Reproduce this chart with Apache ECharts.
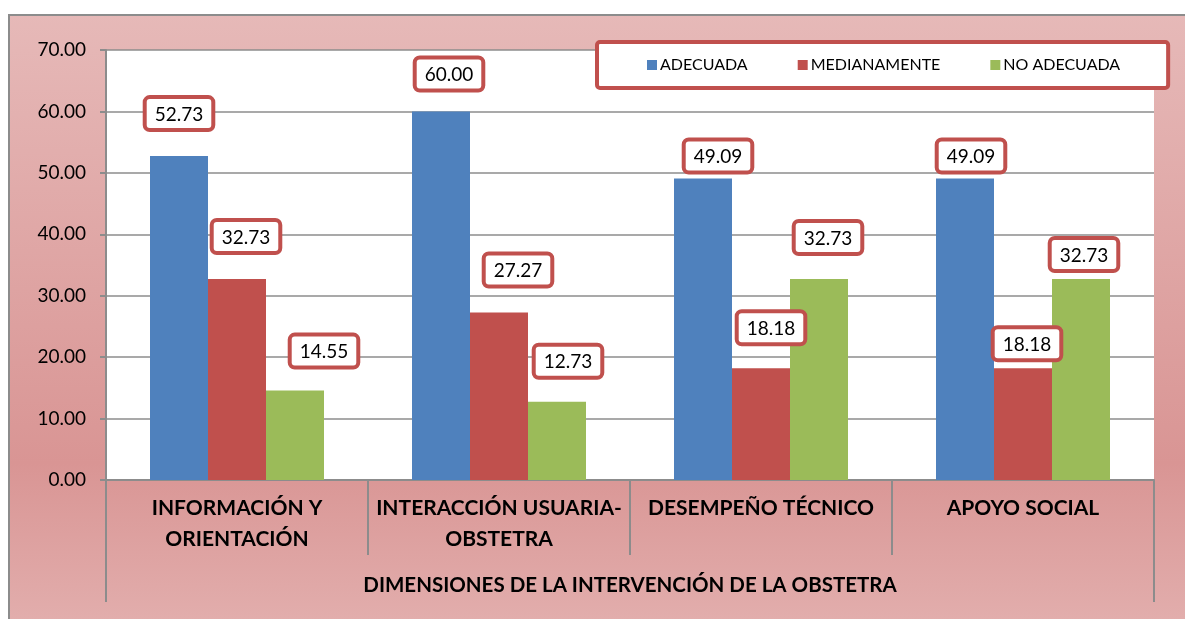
<!DOCTYPE html>
<html>
<head>
<meta charset="utf-8">
<script src="https://cdn.jsdelivr.net/npm/echarts@6/dist/echarts.min.js"></script>
<style>
  html, body { margin: 0; padding: 0; background: #fff; }
  #chart { width: 1185px; height: 619px; }
</style>
</head>
<body>
<div id="chart"></div>
<script>
const categories = ['INFORMACIÓN Y\nORIENTACIÓN', 'INTERACCIÓN USUARIA-\nOBSTETRA', 'DESEMPEÑO TÉCNICO', 'APOYO SOCIAL']
const axisTitle = 'DIMENSIONES DE LA INTERVENCIÓN DE LA OBSTETRA'
const seriesNames = ['ADECUADA', 'MEDIANAMENTE', 'NO ADECUADA']
const adecuada = [52.73, 60.00, 49.09, 49.09]
const medianamente = [32.73, 27.27, 18.18, 18.18]
const noAdecuada = [14.55, 12.73, 32.73, 32.73]
const yTicks = [0, 10, 20, 30, 40, 50, 60, 70]

const colors = ['#4f81bd', '#c0504d', '#9bbb59']
// label placement tweaks (dx, dy) like the hand-moved labels of the original
const labelNudge = [
    [[0, 0], [8, 5], [15, 20], [6, 20]],
    [[9, 0], [19, 0], [10, 2], [4, 18]],
    [[29, 3], [11, 2], [9, 1], [3, 18]]
]
const font = 'Lato, "Open Sans", sans-serif'

let chart = echarts.init(document.getElementById('chart'))

function makeSeries(name, values, idx) {
    return {
        name: name,
        type: 'bar',
        barWidth: 58,
        barGap: '0%',
        itemStyle: { color: colors[idx] },
        data: values.map((v, i) => ({
            value: v,
            label: { offset: labelNudge[idx][i] }
        })),
        label: {
            show: true,
            position: 'top',
            distance: 28,
            formatter: p => p.value.toFixed(2),
            fontFamily: font,
            fontSize: 19,
            color: '#000',
            backgroundColor: '#fff',
            borderColor: '#c0504d',
            borderWidth: 4,
            borderRadius: 3,
            padding: [6, 8, 4, 8]
        }
    }
}

let option = {
    backgroundColor: '#fff',
    animation: false,
    graphic: [{
        type: 'rect',
        z: -10,
        shape: { x: 9, y: 15, width: 1200, height: 640 },
        style: {
            fill: new echarts.graphic.LinearGradient(0, 0, 0, 1, [
                { offset: 0, color: '#e6b9b8' },
                { offset: 0.7, color: '#d99594' },
                { offset: 1, color: '#e4b3b2' }
            ]),
            stroke: '#8c8c8c',
            lineWidth: 2
        }
    }],
    legend: {
        left: 597,
        top: 42,
        icon: 'rect',
        itemWidth: 10,
        itemHeight: 10,
        itemGap: 50,
        padding: [15, 48, 15, 50],
        backgroundColor: '#fff',
        borderColor: '#c0504d',
        borderWidth: 4,
        borderRadius: 3,
        textStyle: { fontFamily: font, fontSize: 16, color: '#000', padding: [0, 0, 0, -2] },
        data: seriesNames
    },
    grid: {
        left: 106,
        top: 50,
        right: 31,
        bottom: 139,
        show: true,
        backgroundColor: '#fff',
        borderWidth: 0
    },
    xAxis: [{
        type: 'category',
        data: categories,
        position: 'bottom',
        axisLine: { lineStyle: { color: '#8c8c8c', width: 2 } },
        axisTick: { show: true, length: 75, interval: 0, lineStyle: { color: '#8c8c8c', width: 2 } },
        axisLabel: {
            interval: 0,
            margin: 13,
            fontFamily: font,
            fontSize: 21,
            fontWeight: 'bold',
            lineHeight: 31,
            color: '#000'
        }
    }, {
        type: 'category',
        data: [axisTitle],
        position: 'bottom',
        axisLine: { show: false },
        axisTick: { show: true, length: 122, lineStyle: { color: '#8c8c8c', width: 2 } },
        axisLabel: {
            margin: 95,
            fontFamily: font,
            fontSize: 20.5,
            fontWeight: 'bold',
            color: '#000'
        }
    }],
    yAxis: {
        type: 'value',
        min: yTicks[0],
        max: yTicks[yTicks.length - 1],
        interval: 10,
        axisLine: { show: true, lineStyle: { color: '#8c8c8c', width: 2 } },
        axisTick: { show: true, length: 6, lineStyle: { color: '#8c8c8c', width: 2 } },
        splitLine: { lineStyle: { color: '#8c8c8c', width: 1.5 } },
        axisLabel: {
            margin: 20,
            fontFamily: font,
            fontSize: 19,
            color: '#000',
            formatter: v => v.toFixed(2)
        }
    },
    series: [
        makeSeries(seriesNames[0], adecuada, 0),
        makeSeries(seriesNames[1], medianamente, 1),
        makeSeries(seriesNames[2], noAdecuada, 2)
    ]
}

chart.setOption(option)
</script>
</body>
</html>
